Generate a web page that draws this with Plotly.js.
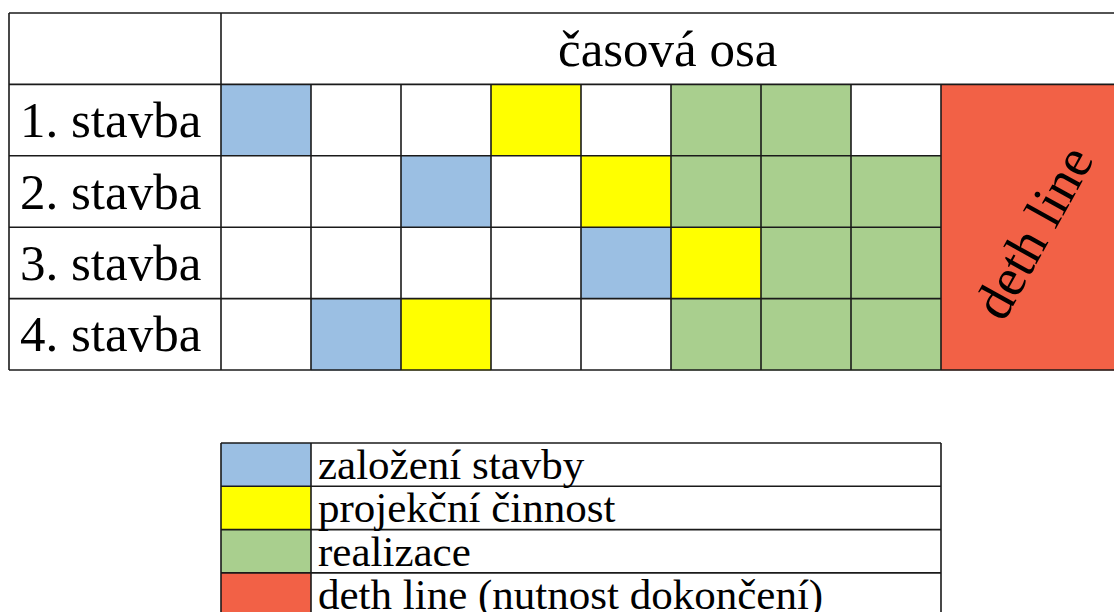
<!DOCTYPE html>
<html>
<head>
<meta charset="utf-8">
<script src="https://cdn.plot.ly/plotly-3.0.1.min.js"></script>
<style>html,body{margin:0;padding:0;background:#fff;}#chart{width:1114px;height:612px;}</style>
</head>
<body>
<div id="chart"></div>
<script>
// ---- data ----
const rowLabels = ['1. stavba', '2. stavba', '3. stavba', '4. stavba'];
const headerText = 'časová osa';
const deadlineText = 'deth line';
// phase codes per time slot: 0 = nothing, 1 = založení, 2 = projekce, 3 = realizace
const stavba1 = [1, 0, 0, 2, 0, 3, 3, 0];
const stavba2 = [0, 0, 1, 0, 2, 3, 3, 3];
const stavba3 = [0, 0, 0, 0, 1, 2, 3, 3];
const stavba4 = [0, 1, 2, 0, 0, 3, 3, 3];
const deadlineCode = 4;
const legendLabels = ['založení stavby', 'projekční činnost', 'realizace', 'deth line (nutnost dokončení)'];
const legendCodes = [1, 2, 3, 4];
const phaseColors = ['#ffffff', '#9bbfe3', '#ffff00', '#a9cf8e', '#f26146'];

// ---- build ----
const grid = [stavba1, stavba2, stavba3, stavba4];
const nSlots = grid[0].length;
const nRows = grid.length;
const slotEdges = Array.from({length: nSlots + 1}, (_, i) => i);
const rowEdges = Array.from({length: nRows + 1}, (_, i) => i + 0.5);

const cs = [];
const nC = phaseColors.length;
phaseColors.forEach((c, i) => { cs.push([i / nC, c]); cs.push([(i + 1) / nC, c]); });

const xMin = -221 / 90, xMax = (1114 - 221) / 90;
const labelLeft = -212 / 90;

const traces = [
  {type: 'heatmap', x: slotEdges, y: rowEdges, z: grid, colorscale: cs, zmin: -0.5, zmax: nC - 0.5,
   showscale: false, hoverinfo: 'skip', xaxis: 'x', yaxis: 'y'},
  {type: 'heatmap', x: [nSlots, xMax + 1], y: [rowEdges[0], rowEdges[nRows]], z: [[deadlineCode]], colorscale: cs,
   zmin: -0.5, zmax: nC - 0.5, showscale: false, hoverinfo: 'skip', xaxis: 'x', yaxis: 'y'},
  {type: 'heatmap', x: [0, 1], y: Array.from({length: legendCodes.length + 1}, (_, i) => i),
   z: legendCodes.map(c => [c]), colorscale: cs, zmin: -0.5, zmax: nC - 0.5, showscale: false,
   hoverinfo: 'skip', xaxis: 'x', yaxis: 'y2'}
];

const lc = '#1a1a1a', lw = 1.6;
const shapes = [];
function hline(y, x0, x1, yref) { shapes.push({type: 'line', xref: 'x', yref: yref || 'y', x0: x0, x1: x1, y0: y, y1: y, line: {color: lc, width: lw}}); }
function vline(x, y0, y1, yref) { shapes.push({type: 'line', xref: 'x', yref: yref || 'y', x0: x, x1: x, y0: y0, y1: y1, line: {color: lc, width: lw}}); }

// main table
hline(-0.5, labelLeft, xMax + 1);
hline(rowEdges[0], labelLeft, xMax + 1);
for (let r = 1; r < nRows; r++) hline(rowEdges[r], labelLeft, nSlots);
hline(rowEdges[nRows], labelLeft, xMax + 1);
vline(labelLeft, -0.5, rowEdges[nRows]);
vline(0, -0.5, rowEdges[nRows]);
for (let i = 1; i <= nSlots; i++) vline(i, rowEdges[0], rowEdges[nRows]);

// legend table
const nL = legendCodes.length;
for (let r = 0; r <= nL; r++) hline(r, 0, nSlots, 'y2');
vline(0, 0, nL, 'y2');
vline(1, 0, nL, 'y2');
vline(nSlots, 0, nL, 'y2');

const serif = 'Liberation Serif, Times New Roman, serif';
const annotations = [];
rowLabels.forEach((t, i) => annotations.push({
  x: labelLeft, y: i + 1, xref: 'x', yref: 'y', text: t, showarrow: false, xanchor: 'left', yanchor: 'middle',
  xshift: 9, yshift: 0, font: {family: serif, size: 51, color: '#000'}
}));
annotations.push({x: (0 + xMax) / 2, y: 0, xref: 'x', yref: 'y', text: headerText, showarrow: false,
  xanchor: 'center', yanchor: 'middle', font: {family: serif, size: 51, color: '#000'}});
annotations.push({x: (1033 - 221) / 90, y: (rowEdges[0] + rowEdges[nRows]) / 2 + 0.08, xref: 'x', yref: 'y',
  text: deadlineText, showarrow: false, textangle: -61, xanchor: 'center', yanchor: 'middle',
  font: {family: serif, size: 54, color: '#000'}});
legendLabels.forEach((t, i) => annotations.push({
  x: 1, y: i + 0.5, xref: 'x', yref: 'y2', text: t, showarrow: false, xanchor: 'left', yanchor: 'middle',
  xshift: 5, font: {family: serif, size: 43, color: '#000'}
}));

const pxY0 = 13, rowH = 71.4;
const yTop = -0.5 - pxY0 / rowH;
const split = 0.3;
const yBot = -0.5 + (612 * (1 - split) - pxY0) / rowH;
const legTop = 443, legRowH = 43.3;
const y2Top = (612 * (1 - split) - legTop) / legRowH;
const y2Bot = (612 - legTop) / legRowH;

const axisOff = {visible: false, showgrid: false, zeroline: false, fixedrange: true};
const layout = {
  width: 1114, height: 612,
  margin: {l: 0, r: 0, t: 0, b: 0},
  paper_bgcolor: '#ffffff', plot_bgcolor: '#ffffff',
  showlegend: false,
  xaxis: Object.assign({range: [xMin, xMax], domain: [0, 1]}, axisOff),
  yaxis: Object.assign({range: [yBot, yTop], domain: [split, 1]}, axisOff),
  yaxis2: Object.assign({range: [y2Bot, y2Top], domain: [0, split], anchor: 'x'}, axisOff),
  shapes: shapes,
  annotations: annotations
};
Plotly.newPlot('chart', traces, layout, {staticPlot: true, displayModeBar: false});
</script>
</body>
</html>
